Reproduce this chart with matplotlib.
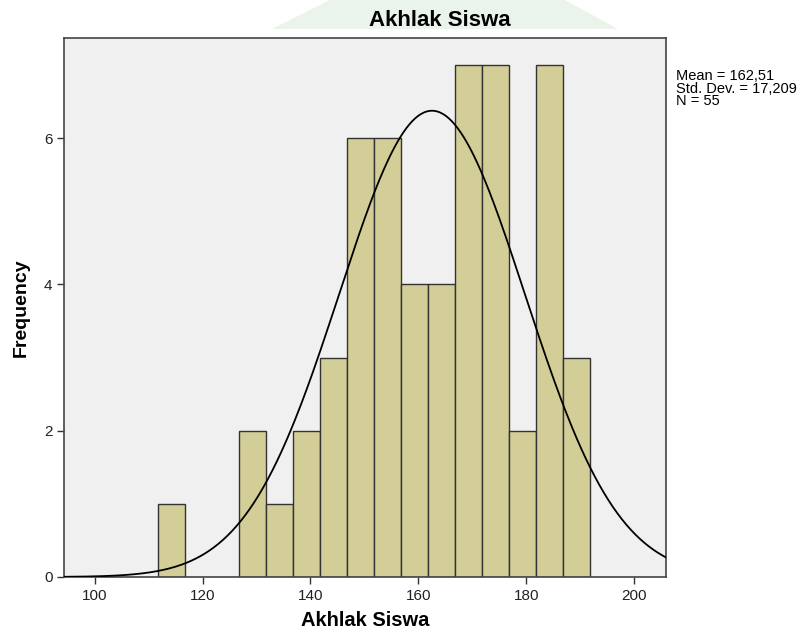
import matplotlib
matplotlib.use('Agg')
import matplotlib.pyplot as plt
import numpy as np
from matplotlib.patches import Polygon

plt.rcParams['font.family'] = ['Liberation Sans', 'DejaVu Sans']

# histogram data
bin_left = [111.7, 126.7, 131.7, 136.7, 141.7, 146.7, 151.7,
            156.7, 161.7, 166.7, 171.7, 176.7, 181.7, 186.7]
counts = [1, 2, 1, 2, 3, 6, 6, 4, 4, 7, 7, 2, 7, 3]
bin_width = 5.0

mean = 162.51
std = 17.209
n = 55

xticks = [100, 120, 140, 160, 180, 200]
yticks = [0, 2, 4, 6]

fig = plt.figure(figsize=(8.04, 6.33), dpi=100)
ax = fig.add_axes([0.080, 0.0885, 0.748, 0.8515])

# faint watermark shape behind the title
wm = Polygon([[272/804, 1-29/633], [330/804, 1.0], [565/804, 1.0], [618/804, 1-29/633]],
             closed=True, transform=fig.transFigure, facecolor='#ebf4eb',
             edgecolor='none', zorder=0)
fig.patches.append(wm)

ax.set_facecolor('#f0f0f0')
ax.bar(bin_left, counts, width=bin_width, align='edge', color='#d3ce97',
       edgecolor='#333333', linewidth=1.0, zorder=2)

# fitted normal curve
xs = np.linspace(94.4, 205.8, 400)
ys = n * bin_width / (std * np.sqrt(2 * np.pi)) * np.exp(-0.5 * ((xs - mean) / std) ** 2)
ax.plot(xs, ys, color='black', linewidth=1.3, zorder=3)

ax.set_xlim(94.4, 205.8)
ax.set_ylim(0, 7.37)
ax.set_xticks(xticks)
ax.set_yticks(yticks)
ax.tick_params(direction='out', length=5, width=1.0, color='#333333',
               labelsize=11, labelcolor='#222222')
for s in ax.spines.values():
    s.set_color('#444444')
    s.set_linewidth(1.2)

ax.set_xlabel('Akhlak Siswa', fontsize=14.5, fontweight='bold', labelpad=6)
ax.set_ylabel('Frequency', fontsize=14, fontweight='bold', labelpad=10)

fig.text(440/804, 1-20/633, 'Akhlak Siswa', ha='center', va='center',
         fontsize=16, fontweight='bold')
fig.text(676/804, 1-69/633, 'Mean = 162,51\nStd. Dev. = 17,209\nN = 55',
         ha='left', va='top', fontsize=10.5, linespacing=0.88)

plt.savefig('out.png', dpi=100)
